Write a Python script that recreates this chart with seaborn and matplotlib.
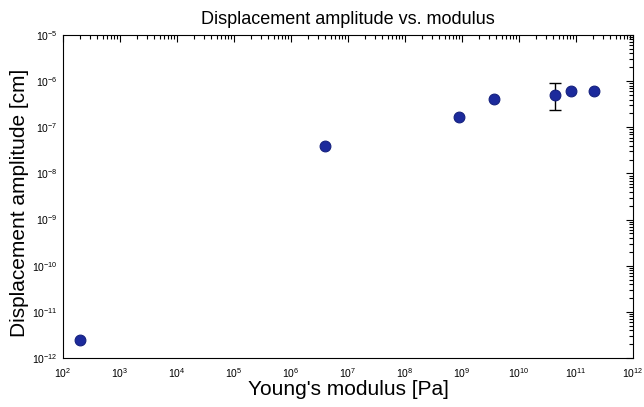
import numpy as np
import pandas as pd
import matplotlib
matplotlib.use("Agg")
import matplotlib.pyplot as plt
import matplotlib.ticker as mticker
import seaborn as sns

modulus = [2e2, 4e6, 9e8, 3.6e9, 4.3e10, 8.3e10, 2.1e11]
amplitude = [2.4e-12, 4.0e-8, 1.65e-7, 4.2e-7, 4.9e-7, 6.2e-7, 6.2e-7]
err_x = [4.3e10]
err_y = [4.9e-7]
err_low = [2.4e-7]
err_high = [9.2e-7]

title = "Displacement amplitude vs. modulus"
xlabel = "Young's modulus [Pa]"
ylabel = "Displacement amplitude [cm]"

sns.set_style("white")
plt.rcParams['font.family'] = ['Liberation Sans', 'DejaVu Sans']
plt.rcParams['text.color'] = 'black'
plt.rcParams['axes.labelcolor'] = 'black'

df = pd.DataFrame({"E": modulus, "A": amplitude})

fig = plt.figure(figsize=(6.44, 4.07), dpi=100)
ax = fig.add_axes([63/644, 1 - 358/407, 570/644, 323/407])

yerr = np.array([[err_y[0] - err_low[0]], [err_high[0] - err_y[0]]])
ax.errorbar(err_x, err_y, yerr=yerr, fmt='none', ecolor='black',
            elinewidth=1.0, capsize=4.3, capthick=1.0, zorder=2)

sns.scatterplot(data=df, x="E", y="A", ax=ax, s=60, color="#1c2a9c",
                edgecolor="#14207e", linewidth=0.8, zorder=3, legend=False)

ax.set_xscale("log")
ax.set_yscale("log")
ax.set_xlim(1e2, 1e12)
ax.set_ylim(1e-12, 1e-5)

ax.xaxis.set_major_locator(mticker.LogLocator(base=10, numticks=20))
ax.yaxis.set_major_locator(mticker.LogLocator(base=10, numticks=20))
ax.xaxis.set_minor_locator(mticker.LogLocator(base=10, subs=np.arange(2, 10), numticks=20))
ax.yaxis.set_minor_locator(mticker.LogLocator(base=10, subs=np.arange(2, 10), numticks=20))
ax.xaxis.set_minor_formatter(mticker.NullFormatter())
ax.yaxis.set_minor_formatter(mticker.NullFormatter())

ax.tick_params(which='both', direction='in', top=True, right=True,
               labelsize=7.5, colors='black', width=0.8)
ax.tick_params(which='major', length=5)
ax.tick_params(which='minor', length=3)
ax.tick_params(axis='x', which='major', pad=6)
ax.tick_params(axis='y', which='major', pad=4)
for sp in ax.spines.values():
    sp.set_color('black')
    sp.set_linewidth(0.8)

ax.set_title(title, fontsize=13, pad=8, color='black')
ax.set_xlabel(xlabel, fontsize=15, color='black')
ax.set_ylabel(ylabel, fontsize=15, color='black')
ax.xaxis.set_label_coords(0.5, -(380 - 358) / 323)
ax.yaxis.set_label_coords(-(63 - 29) / 570, 0.48)

fig.savefig("out.png", dpi=100)
